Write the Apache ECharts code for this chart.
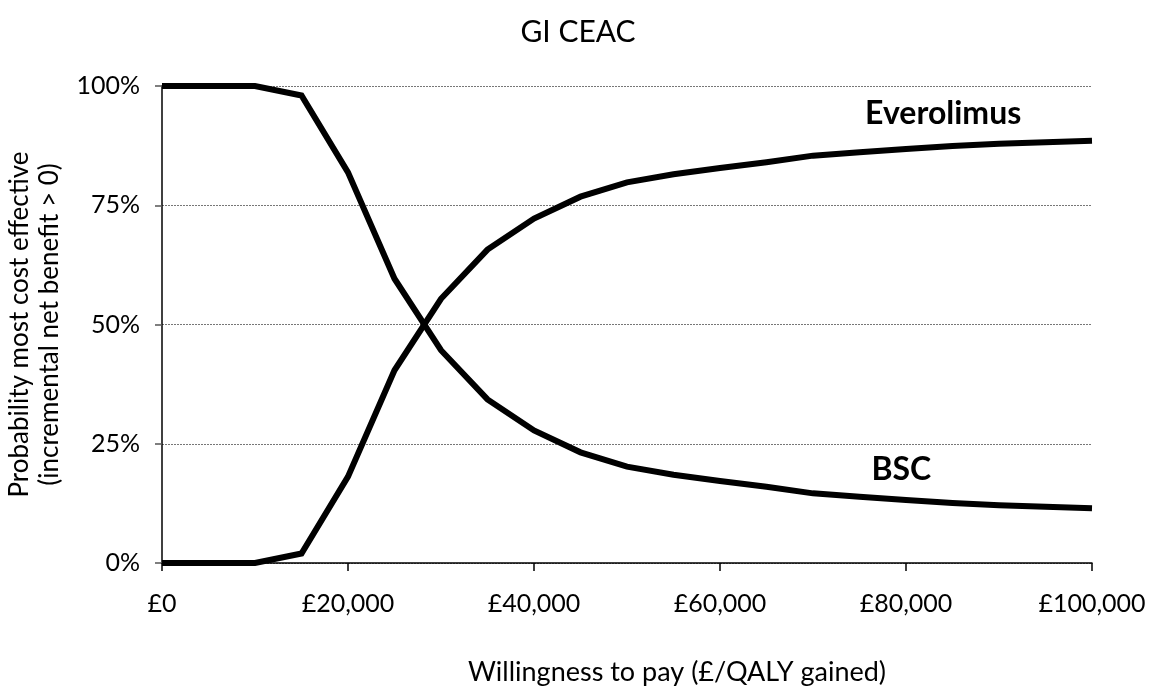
<!DOCTYPE html>
<html>
<head>
<meta charset="utf-8">
<title>GI CEAC</title>
<script src="https://cdn.jsdelivr.net/npm/echarts@6/dist/echarts.min.js"></script>
<style>
  html, body { margin: 0; padding: 0; background: #fff; }
  #chart { width: 1156px; height: 699px; }
</style>
</head>
<body>
<div id="chart"></div>
<script>
// Willingness-to-pay thresholds (£ per QALY gained)
const wtp = [0, 5000, 10000, 15000, 20000, 25000, 30000, 35000, 40000, 45000, 50000,
             55000, 60000, 65000, 70000, 75000, 80000, 85000, 90000, 95000, 100000];

// Probability (%) that each strategy is the most cost effective
const everolimus = [0, 0, 0, 2.0, 18.1, 40.4, 55.4, 65.7, 72.2, 76.8, 79.8,
                    81.5, 82.8, 84.0, 85.4, 86.1, 86.8, 87.4, 87.9, 88.2, 88.5];
const bsc = [100, 100, 100, 98.0, 81.9, 59.6, 44.6, 34.3, 27.8, 23.2, 20.2,
             18.5, 17.2, 16.0, 14.6, 13.9, 13.2, 12.6, 12.1, 11.8, 11.5];

const yTicks = [0, 25, 50, 75, 100];

const FONT = 'Lato, "Open Sans", sans-serif';

const chart = echarts.init(document.getElementById('chart'), null, { renderer: 'canvas' });

function pairs(ys) { return wtp.map((x, i) => [x, ys[i]]); }

function curve(name, ys, labelAt) {
  return {
    name: name,
    type: 'line',
    data: pairs(ys),
    showSymbol: false,
    symbol: 'none',
    lineStyle: { color: '#000', width: 6, join: 'miter' },
    z: 3,
    markPoint: {
      symbol: 'circle',
      symbolSize: 0,
      silent: true,
      label: {
        show: true,
        position: 'inside',
        formatter: name,
        color: '#000',
        fontFamily: FONT,
        fontWeight: 'bold',
        fontSize: 32
      },
      data: [{ coord: labelAt }]
    }
  };
}

chart.setOption({
  animation: false,
  backgroundColor: '#fff',
  title: {
    text: 'GI CEAC',
    left: 'center',
    top: 12,
    textStyle: { fontFamily: FONT, fontWeight: 'normal', fontSize: 30, color: '#000' }
  },
  grid: { left: 162, right: 64, top: 86, bottom: 136, containLabel: false, outerBoundsMode: 'none' },
  xAxis: {
    type: 'value',
    min: 0,
    max: 100000,
    interval: 20000,
    name: 'Willingness to pay (£/QALY gained)',
    nameLocation: 'middle',
    nameGap: 96,
    // title sits a little right of the plot centre
    nameTextStyle: { fontFamily: FONT, fontSize: 27, color: '#000', padding: [0, 0, 0, 100] },
    axisLine: { show: true, onZero: false, lineStyle: { color: '#000', width: 1.5 } },
    axisTick: { show: true, length: 8, inside: false, lineStyle: { color: '#000', width: 1.5 } },
    axisLabel: {
      margin: 28,
      fontFamily: FONT,
      fontSize: 25,
      color: '#000',
      formatter: v => '£' + v.toLocaleString('en-GB')
    },
    splitLine: { show: false }
  },
  yAxis: {
    type: 'value',
    min: 0,
    max: 100,
    interval: 25,
    name: 'Probability most cost effective\n(incremental net benefit > 0)',
    nameLocation: 'middle',
    nameRotate: 90,
    nameGap: 97,
    nameTextStyle: { fontFamily: FONT, fontSize: 26, color: '#000', lineHeight: 30, align: 'center' },
    axisLine: { show: true, lineStyle: { color: '#000', width: 1.5 } },
    axisTick: { show: true, length: 7, lineStyle: { color: '#555', width: 1.5 } },
    axisLabel: {
      margin: 22,
      fontFamily: FONT,
      fontSize: 25,
      color: '#000',
      formatter: v => yTicks.includes(v) ? v + '%' : ''
    },
    splitLine: { show: true, lineStyle: { color: '#777', width: 1, type: [2, 1] } }
  },
  series: [
    curve('Everolimus', everolimus, [84000, 94.2]),
    curve('BSC', bsc, [79500, 19.5])
  ]
});
</script>
</body>
</html>
